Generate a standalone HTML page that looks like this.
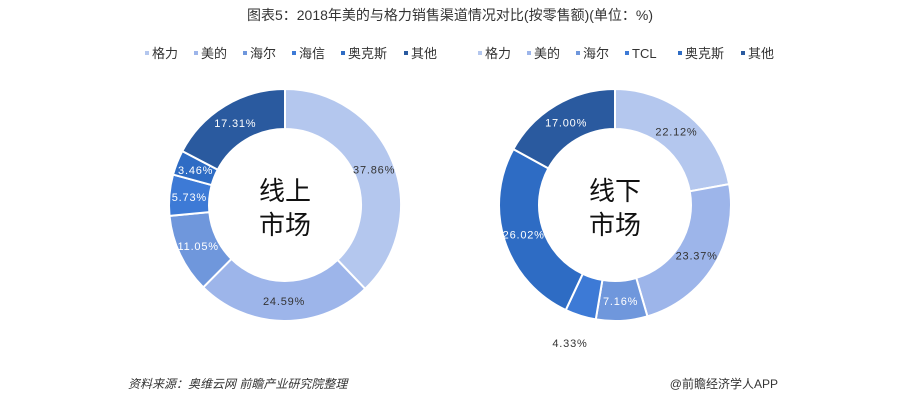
<!DOCTYPE html>
<html><head><meta charset="utf-8"><style>
body{margin:0;background:#fff;width:900px;height:400px;overflow:hidden;font-family:"Liberation Sans","Noto Sans CJK SC",sans-serif}
</style></head><body>
<svg id="s" width="900" height="400" xmlns="http://www.w3.org/2000/svg" font-family="Liberation Sans, Noto Sans CJK SC, sans-serif">
<text x="450" y="20" text-anchor="middle" font-size="14" fill="#333">图表5：2018年美的与格力销售渠道情况对比(按零售额)(单位：%)</text>
<g id="leg" font-size="13" fill="#333"></g>
<g id="d"></g>
<text x="285" y="200" text-anchor="middle" font-size="26" fill="#111">线上</text>
<text x="285" y="234" text-anchor="middle" font-size="26" fill="#111">市场</text>
<text x="615" y="200" text-anchor="middle" font-size="26" fill="#111">线下</text>
<text x="615" y="234" text-anchor="middle" font-size="26" fill="#111">市场</text>
<text x="128" y="388" font-size="12" font-style="italic" fill="#333">资料来源：奥维云网 前瞻产业研究院整理</text>
<text x="778" y="388" text-anchor="end" font-size="12" fill="#333">@前瞻经济学人APP</text>
</svg>
<script>
var C=["#b4c7ee","#9db5ea","#6f97dc","#3d7ad6","#2e6cc4","#2a5a9f"];
var s=document.getElementById('d'),L=document.getElementById('leg'),NS="http://www.w3.org/2000/svg";
function el(t,a,p,txt){var e=document.createElementNS(NS,t);for(var k in a)e.setAttribute(k,a[k]);if(txt)e.textContent=txt;p.appendChild(e);return e;}
function donut(cx,cy,vals,outside){var R=116,r=76,a=0;vals.forEach(function(v,i){var a0=a,a1=a+v/100*2*Math.PI;a=a1;
function P(rr,t){return [cx+rr*Math.sin(t),cy-rr*Math.cos(t)];}
var p1=P(R,a0),p2=P(R,a1),p3=P(r,a1),p4=P(r,a0),lg=(a1-a0)>Math.PI?1:0;
el('path',{d:'M'+p1+'A'+R+','+R+' 0 '+lg+' 1 '+p2+'L'+p3+'A'+r+','+r+' 0 '+lg+' 0 '+p4+'Z',fill:C[i],stroke:'#fff','stroke-width':2},s);
var m=(a0+a1)/2,q=P((R+r)/2,m),col=i<2?'#333':'#fff';
if(outside===i){q=[570,343];col='#333';}
el('text',{x:q[0],y:q[1]+4,'text-anchor':'middle','font-size':11,fill:col,'letter-spacing':'0.8'},s,v.toFixed(2)+'%');});}
donut(285,205,[37.86,24.59,11.05,5.73,3.46,17.31]);
donut(615,205,[22.12,23.37,7.16,4.33,26.02,17.00],3);
function leg(x,names){names.forEach(function(n,i){el('rect',{x:x,y:51,width:4,height:4,fill:C[i]},L);el('text',{x:x+7,y:58},L,n);x+=7+n.length*14+(n=='TCL'?-10:0)+14;});}
leg(145,["格力","美的","海尔","海信","奥克斯","其他"]);
leg(478,["格力","美的","海尔","TCL","奥克斯","其他"]);
</script>
</body></html>
